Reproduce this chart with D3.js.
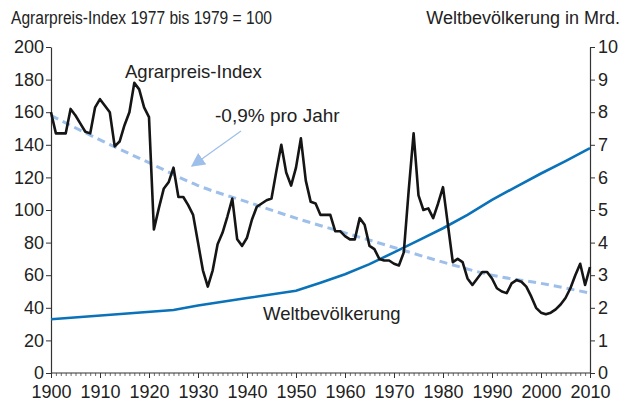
<!DOCTYPE html>
<html>
<head>
<meta charset="utf-8">
<script src="https://d3js.org/d3.v7.min.js"></script>
<style>
  body { margin: 0; background: #fff; }
  text { font-family: "Liberation Sans", Arial, sans-serif; fill: #222; }
</style>
</head>
<body>
<div id="chart"></div>
<script>
// Agrarpreis-Index (1977-1979 = 100), one value per year 1900..2010
const years = d3.range(1900, 2011);
const priceIndex = [
  160, 147, 147, 147, 162, 158, 153, 148, 147, 163,   // 1900-1909
  168, 164, 160, 139, 142, 152, 160, 178, 174, 163,   // 1910-1919
  157, 88, 101, 113, 117, 126, 108, 108, 103, 97,     // 1920-1929
  80, 63, 53, 63, 79, 86, 96, 107, 82, 78,            // 1930-1939
  83, 94, 102, 104, 106, 107, 124, 140, 123, 115,     // 1940-1949
  126, 144, 118, 105, 104, 97, 97, 97, 87, 87,        // 1950-1959
  84, 82, 82, 95, 91, 78, 76, 70, 69, 69,             // 1960-1969
  67, 66, 74, 112, 147, 109, 100, 101, 95, 104,       // 1970-1979
  114, 91, 68, 70, 68, 58, 54, 58, 62, 62,            // 1980-1989
  58, 52, 50, 49, 55, 57, 56, 53, 47, 40,             // 1990-1999
  37, 36, 37, 39, 42, 46, 52, 60, 67, 54,             // 2000-2009
  65                                                  // 2010
];

// Trend line "-0,9% pro Jahr", read at each decade
const trendYears = [1900, 1910, 1920, 1930, 1940, 1950, 1960, 1970, 1980, 1990, 2000, 2010];
const trendValues = [158, 143, 129, 115, 105, 95, 86, 77, 68, 60, 55, 49];

// Weltbevölkerung in Mrd.
const popYears = [1900, 1925, 1930, 1940, 1950, 1955, 1960, 1965, 1970, 1975, 1980, 1985, 1990, 1995, 2000, 2005, 2010];
const popValues = [1.65, 1.93, 2.07, 2.3, 2.52, 2.77, 3.03, 3.34, 3.7, 4.07, 4.44, 4.85, 5.31, 5.72, 6.12, 6.5, 6.9];

const leftTicks = d3.range(0, 201, 20);
const rightTicks = d3.range(0, 11, 1);
const xTicks = d3.range(1900, 2011, 10);

const width = 627, height = 402;
const margin = { top: 47, right: 37, bottom: 29, left: 51 };
const tickFont = 18;

const svg = d3.select("#chart").append("svg")
  .attr("width", width)
  .attr("height", height);

const x = d3.scaleLinear().domain([1900, 2010]).range([margin.left, width - margin.right]);
const yL = d3.scaleLinear().domain([0, 200]).range([height - margin.bottom, margin.top]);
const yR = d3.scaleLinear().domain([0, 10]).range([height - margin.bottom, margin.top]);

// Axes
const axisColor = "#333";
const gx = svg.append("g")
  .attr("transform", `translate(0,${height - margin.bottom})`)
  .call(d3.axisBottom(x).tickValues(d3.range(1900, 2011)).tickSize(3).tickFormat(""));
gx.selectAll(".tick line").attr("stroke", axisColor).attr("stroke-width", 0.7);
gx.selectAll(".tick").filter(d => d % 10 === 0).select("line").attr("y2", 5).attr("stroke-width", 1);
gx.select(".domain").remove();

svg.append("g")
  .attr("transform", `translate(0,${height - margin.bottom})`)
  .call(d3.axisBottom(x).tickValues(xTicks).tickSize(0).tickPadding(12).tickFormat(d3.format("d")))
  .call(g => g.select(".domain").remove())
  .selectAll("text").attr("font-size", tickFont).attr("fill", "#222")
  .style("font-family", "Liberation Sans, Arial, sans-serif");

const gl = svg.append("g")
  .attr("transform", `translate(${margin.left},0)`)
  .call(d3.axisLeft(yL).tickValues(leftTicks).tickSize(5).tickSizeOuter(0).tickPadding(2));
const gr = svg.append("g")
  .attr("transform", `translate(${width - margin.right},0)`)
  .call(d3.axisRight(yR).tickValues(rightTicks).tickSize(5).tickSizeOuter(0).tickPadding(3));

[gl, gr].forEach(g => {
  g.select(".domain").attr("stroke", axisColor).attr("stroke-width", 1.2);
  g.selectAll(".tick line").attr("stroke", axisColor).attr("stroke-width", 1);
  g.selectAll("text").attr("font-size", tickFont).attr("fill", "#222")
    .style("font-family", "Liberation Sans, Arial, sans-serif");
});

svg.append("line")
  .attr("x1", margin.left).attr("x2", width - margin.right)
  .attr("y1", height - margin.bottom).attr("y2", height - margin.bottom)
  .attr("stroke", axisColor).attr("stroke-width", 1.2);

// Population line
svg.append("path")
  .datum(popYears.map((yr, i) => [yr, popValues[i]]))
  .attr("fill", "none")
  .attr("stroke", "#0a72b9")
  .attr("stroke-width", 2.6)
  .attr("d", d3.line().x(d => x(d[0])).y(d => yR(d[1])));

// Trend line (dashed)
svg.append("path")
  .datum(trendYears.map((yr, i) => [yr, trendValues[i]]))
  .attr("fill", "none")
  .attr("stroke", "#9dbfea")
  .attr("stroke-width", 3)
  .attr("stroke-dasharray", "8,5")
  .attr("d", d3.line().curve(d3.curveMonotoneX).x(d => x(d[0])).y(d => yL(d[1])));

// Price index line
svg.append("path")
  .datum(years.map((yr, i) => [yr, priceIndex[i]]))
  .attr("fill", "none")
  .attr("stroke", "#151515")
  .attr("stroke-width", 2.6)
  .attr("stroke-linejoin", "round")
  .attr("d", d3.line().x(d => x(d[0])).y(d => yL(d[1])));

// Arrow for trend annotation
svg.append("defs").append("marker")
  .attr("id", "arrow")
  .attr("viewBox", "0 0 10 10")
  .attr("refX", 9).attr("refY", 5)
  .attr("markerWidth", 14).attr("markerHeight", 14)
  .attr("markerUnits", "userSpaceOnUse")
  .attr("orient", "auto")
  .append("path")
  .attr("d", "M0,0 L10,5 L0,10 Z")
  .attr("fill", "#9dbfea");

svg.append("line")
  .attr("x1", 241).attr("y1", 131)
  .attr("x2", 192).attr("y2", 166)
  .attr("stroke", "#9dbfea")
  .attr("stroke-width", 1.2)
  .attr("marker-end", "url(#arrow)");

// Titles and labels
svg.append("text").attr("x", 11).attr("y", 24).attr("font-size", 17.5)
  .attr("textLength", 261).attr("lengthAdjust", "spacingAndGlyphs")
  .text("Agrarpreis-Index 1977 bis 1979 = 100");
svg.append("text").attr("x", 620).attr("y", 24).attr("font-size", 18)
  .attr("text-anchor", "end").text("Weltbevölkerung in Mrd.");
svg.append("text").attr("x", 125).attr("y", 78).attr("font-size", 18.5)
  .text("Agrarpreis-Index");
svg.append("text").attr("x", 215).attr("y", 122).attr("font-size", 19)
  .text("-0,9% pro Jahr");
svg.append("text").attr("x", 263).attr("y", 320).attr("font-size", 18.5)
  .text("Weltbevölkerung");
</script>
</body>
</html>
